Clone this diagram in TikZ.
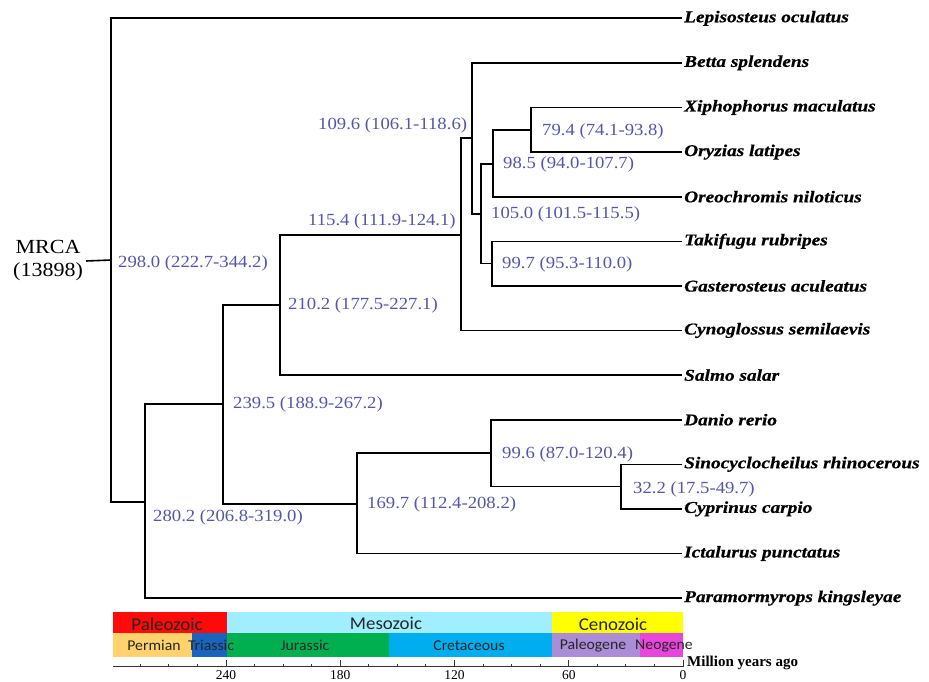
\documentclass[tikz,border=0pt]{standalone}
\usepackage{fontspec}
\setmainfont{Liberation Serif}
\newfontfamily\spfont[FakeStretch=1.17,FakeBold=0.6]{Liberation Serif}
\newfontfamily\lblfont[FakeStretch=1.1]{Liberation Serif}
\newfontfamily\geofont[FakeStretch=1.05]{Carlito}
\definecolor{agecol}{RGB}{85,85,170}
\definecolor{cPaleo}{RGB}{255,10,10}
\definecolor{cMeso}{RGB}{160,238,255}
\definecolor{cCeno}{RGB}{255,255,0}
\definecolor{cPerm}{RGB}{255,210,110}
\definecolor{cTrias}{RGB}{25,100,190}
\definecolor{cJura}{RGB}{0,176,80}
\definecolor{cCret}{RGB}{0,174,239}
\definecolor{cPaleog}{RGB}{170,140,215}
\definecolor{cNeog}{RGB}{232,70,218}
\begin{document}
\begin{tikzpicture}[x=1pt,y=-1pt,
  branch/.style={line width=1.6pt, black},
  species/.style={anchor=west, inner xsep=2pt, inner ysep=0pt, font=\spfont\bfseries\itshape\fontsize{16.5}{18}\selectfont},
  age/.style={anchor=west, inner sep=0pt, text=agecol, font=\lblfont\fontsize{17}{19}\selectfont},
  erabox/.style={anchor=center, inner sep=0pt, font=\geofont\fontsize{18}{20}\selectfont, text=black!85},
  perbox/.style={anchor=center, inner sep=0pt, font=\geofont\fontsize{15}{17}\selectfont, text=black!85},
  axisline/.style={line width=1pt, black!80},
  ticklbl/.style={anchor=center, inner sep=0pt, font=\fontsize{13.5}{15}\selectfont}
]
\useasboundingbox (0,0) rectangle (929,682);

% species (leaves)
\node[species] (lepi)  at (682,18.3)  {Lepisosteus oculatus};
\node[species] (betta) at (682,62.9)  {Betta splendens};
\node[species] (xipho) at (682,107.5) {Xiphophorus maculatus};
\node[species] (ory)   at (682,152.1) {Oryzias latipes};
\node[species] (oreo)  at (682,196.7) {Oreochromis niloticus};
\node[species] (taki)  at (682,241.3) {Takifugu rubripes};
\node[species] (gast)  at (682,285.9) {Gasterosteus aculeatus};
\node[species] (cyno)  at (682,330.5) {Cynoglossus semilaevis};
\node[species] (salmo) at (682,375.1) {Salmo salar};
\node[species] (danio) at (682,419.7) {Danio rerio};
\node[species] (sino)  at (682,464.3) {Sinocyclocheilus rhinocerous};
\node[species] (cyp)   at (682,508.9) {Cyprinus carpio};
\node[species] (icta)  at (682,553.5) {Ictalurus punctatus};
\node[species] (para)  at (682,598.1) {Paramormyrops kingsleyae};

% internal nodes
\coordinate (root) at (111,260);
\coordinate (n280) at (145,502);
\coordinate (n239) at (223,404);
\coordinate (n210) at (280,305);
\coordinate (n115) at (461,235);
\coordinate (n109) at (472,138);
\coordinate (n105) at (481,214);
\coordinate (n98)  at (493,164);
\coordinate (n79)  at (531,130);
\coordinate (n99b) at (492,263.6);
\coordinate (n169) at (357,504);
\coordinate (n99c) at (491,453);
\coordinate (n32)  at (621,486.6);

\node[align=center, inner sep=1pt, font=\lblfont\fontsize{20}{23}\selectfont] (mrca) at (48,261) {MRCA\\(13898)};

% branches
\draw[branch] ([xshift=2pt]mrca.east) -- (root);
\draw[branch] (lepi.west) -| (root) |- (n280);
\draw[branch] (n239) -| (n280) |- (para.west);
\draw[branch] (n210) -| (n239) |- (n169);
\draw[branch] (n115) -| (n210) |- (salmo.west);
\draw[branch] (n109) -| (n115) |- (cyno.west);
\draw[branch] (betta.west) -| (n109) |- (n105);
\draw[branch] (n98) -| (n105) |- (n99b);
\draw[branch] (n79) -| (n98) |- (oreo.west);
\draw[branch] (xipho.west) -| (n79) |- (ory.west);
\draw[branch] (taki.west) -| (n99b) |- (gast.west);
\draw[branch] (n99c) -| (n169) |- (icta.west);
\draw[branch] (danio.west) -| (n99c) |- (n32);
\draw[branch] (sino.west) -| (n32) |- (cyp.west);

% age labels
\node[age] (l109) at (318,125) {109.6 (106.1-118.6)};
\node[age] (l115) at (308,221) {115.4 (111.9-124.1)};
\node[age] (l298) at (118,263) {298.0 (222.7-344.2)};
\node[age] (l210) at (288,305) {210.2 (177.5-227.1)};
\node[age] (l79)  at (542,131) {79.4 (74.1-93.8)};
\node[age] (l98)  at (503,164) {98.5 (94.0-107.7)};
\node[age] (l105) at (491,214) {105.0 (101.5-115.5)};
\node[age] (l99b) at (502,264) {99.7 (95.3-110.0)};
\node[age] (l239) at (233,404) {239.5 (188.9-267.2)};
\node[age] (l280) at (153,517) {280.2 (206.8-319.0)};
\node[age] (l169) at (367,504) {169.7 (112.4-208.2)};
\node[age] (l99c) at (502,454) {99.6 (87.0-120.4)};
\node[age] (l32)  at (633,489) {32.2 (17.5-49.7)};

% geological time scale
\fill[cPaleo]  (113,612) rectangle (227,633);
\fill[cMeso]   (227,612) rectangle (552,633);
\fill[cCeno]   (552,612) rectangle (683,633);
\fill[cPerm]   (113,633) rectangle (192,657);
\fill[cTrias]  (192,633) rectangle (227,657);
\fill[cJura]   (227,633) rectangle (389,657);
\fill[cCret]   (389,633) rectangle (552,657);
\fill[cPaleog] (552,633) rectangle (640,657);
\fill[cNeog]   (640,633) rectangle (683,657);

\node[erabox] (ePaleo) at (167,624) {Paleozoic};
\node[erabox] (eMeso)  at (386,623) {Mesozoic};
\node[erabox] (eCeno)  at (613,624) {Cenozoic};
\node[perbox] (pPerm)  at (154,645.5) {Permian};
\node[perbox] (pTrias) at (211,645.5) {Triassic};
\node[perbox] (pJura)  at (305,645.5) {Jurassic};
\node[perbox] (pCret)  at (469,645.5) {Cretaceous};
\node[perbox] (pPaleog) at (593,645.5) {Paleogene};
\node[perbox] (pNeog)  at (664,645.5) {Neogene};

\draw[axisline] (113,666) -- (683.5,666);
\foreach \t in {15,30,...,285} {\draw[axisline] ({683-1.904*\t},666) -- ++(0,-2.5);}
\foreach \t in {0,60,120,180,240} {
  \draw[axisline] ({683-1.904*\t},666) -- ++(0,-6);
  \node[ticklbl] at ({683-1.904*\t},675) {\t};
}
\node[anchor=west, inner sep=0pt, font=\bfseries\fontsize{15}{17}\selectfont] (mya) at (687,663) {Million years ago};
\end{tikzpicture}
\end{document}
